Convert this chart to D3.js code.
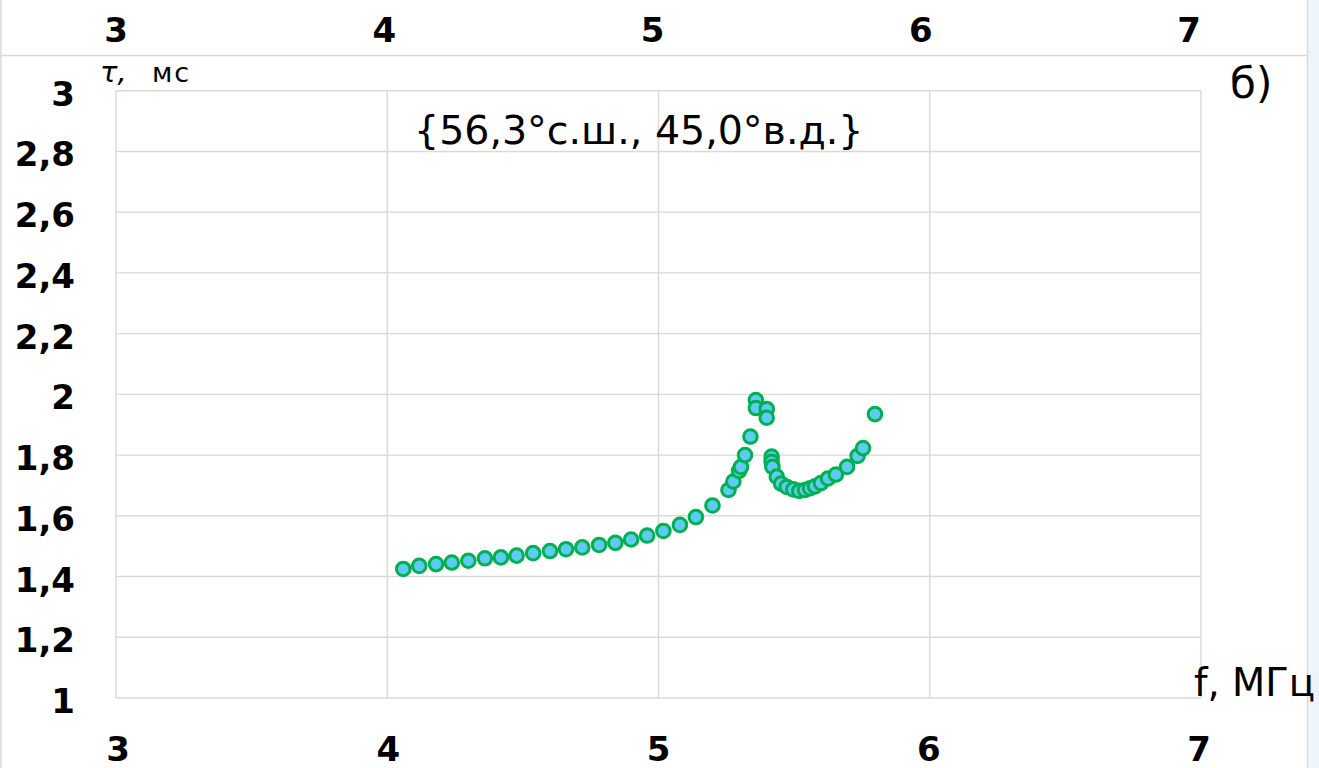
<!DOCTYPE html>
<html>
<head>
<meta charset="utf-8">
<script src="https://cdn.jsdelivr.net/npm/d3@7"></script>
<style>
  body { margin: 0; background: #fff; }
  svg { display: block; }
</style>
</head>
<body>
<svg id="chart" width="1319" height="768"></svg>
<script>
// frequency, MHz
const freq = [4.059, 4.118, 4.180, 4.238, 4.299, 4.360, 4.419, 4.477, 4.538, 4.600,
  4.659, 4.719, 4.781, 4.841, 4.899, 4.958, 5.018, 5.079, 5.138, 5.199,
  5.258, 5.276, 5.297, 5.304, 5.319, 5.339, 5.359, 5.359, 5.399, 5.399,
  5.417, 5.417, 5.420, 5.436, 5.452, 5.473, 5.497, 5.519, 5.540, 5.559,
  5.577, 5.599, 5.625, 5.654, 5.695, 5.734, 5.754, 5.798];
// group delay, ms
const tau = [1.425, 1.435, 1.441, 1.446, 1.452, 1.460, 1.463, 1.469, 1.477, 1.484,
  1.490, 1.496, 1.504, 1.511, 1.522, 1.535, 1.550, 1.570, 1.596, 1.634,
  1.685, 1.713, 1.748, 1.761, 1.800, 1.861, 1.981, 1.955, 1.952, 1.923,
  1.795, 1.778, 1.761, 1.729, 1.706, 1.695, 1.687, 1.682, 1.685, 1.691,
  1.697, 1.708, 1.723, 1.736, 1.761, 1.797, 1.823, 1.935];

const xTicks = [3, 4, 5, 6, 7];
const yTicks = [1, 1.2, 1.4, 1.6, 1.8, 2, 2.2, 2.4, 2.6, 2.8, 3];

const svg = d3.select("#chart");
const grey = "#d9d9d9";

const x = d3.scaleLinear().domain([3, 7]).range([116, 1201]);
const y = d3.scaleLinear().domain([1, 3]).range([698, 90.7]);
// the top and bottom label rows sit a little off the grid in the picture
const xTop = d3.scaleLinear().domain([3, 7]).range([116, 1189]);
const xBot = d3.scaleLinear().domain([3, 7]).range([118, 1199]);

const fmt = d3.formatLocale({decimal: ",", thousands: " ", grouping: [3], currency: ["", ""]}).format("~g");

// frame of the sheet
svg.append("rect").attr("x", 1308).attr("y", 0).attr("width", 11).attr("height", 768).attr("fill", "#eef4fb");
svg.append("line").attr("x1", 0).attr("x2", 1307).attr("y1", 55.5).attr("y2", 55.5).attr("stroke", grey).attr("stroke-width", 1.5);
svg.append("line").attr("x1", 1307.5).attr("x2", 1307.5).attr("y1", 0).attr("y2", 768).attr("stroke", grey).attr("stroke-width", 1.5);
svg.append("line").attr("x1", 1).attr("x2", 1).attr("y1", 0).attr("y2", 768).attr("stroke", grey).attr("stroke-width", 1.5);

// grid
let grid = svg.append("g");
grid.selectAll("line.v").data(xTicks).enter().append("line")
  .attr("x1", d => x(d)).attr("x2", d => x(d))
  .attr("y1", y(3)).attr("y2", y(1))
  .attr("stroke", grey).attr("stroke-width", 1.4);
grid.selectAll("line.h").data(yTicks).enter().append("line")
  .attr("x1", x(3)).attr("x2", x(7))
  .attr("y1", d => y(d)).attr("y2", d => y(d))
  .attr("stroke", grey).attr("stroke-width", 1.4);

// tick labels
const tickFont = "'DejaVu Sans', sans-serif";
svg.append("g").selectAll("text").data(yTicks).enter().append("text")
  .attr("x", 75).attr("y", d => y(d) + 15)
  .attr("text-anchor", "end")
  .style("font", "bold 34px " + tickFont)
  .text(d => fmt(d));

svg.append("g").selectAll("text").data(xTicks).enter().append("text")
  .attr("x", d => xTop(d)).attr("y", 42)
  .attr("text-anchor", "middle")
  .style("font", "bold 34px " + tickFont)
  .text(d => fmt(d));

svg.append("g").selectAll("text").data(xTicks).enter().append("text")
  .attr("x", d => xBot(d)).attr("y", 761)
  .attr("text-anchor", "middle")
  .style("font", "bold 34px " + tickFont)
  .text(d => fmt(d));

// points
svg.append("g").selectAll("circle").data(freq).enter().append("circle")
  .attr("cx", d => x(d))
  .attr("cy", (d, i) => y(tau[i]))
  .attr("r", 6.8)
  .attr("fill", "#5dcbf2")
  .attr("stroke", "#00b050")
  .attr("stroke-width", 3);

// annotations
const txtFont = "'DejaVu Sans', sans-serif";
svg.append("text").attr("x", 100).attr("y", 82)
  .style("font", "italic 29px " + txtFont).text("τ,");
svg.append("text").attr("x", 152).attr("y", 82)
  .style("font", "27px " + txtFont).style("letter-spacing", "2px").text("мс");
svg.append("text").attr("x", 1230).attr("y", 98)
  .style("font", "42px " + txtFont).text("б)");
svg.append("text").attr("x", 414).attr("y", 144)
  .style("font", "39.5px " + txtFont).text("{56,3°с.ш., 45,0°в.д.}");
svg.append("text").attr("x", 1194).attr("y", 696)
  .style("font", "38.5px " + txtFont).text("f, МГц");
</script>
</body>
</html>
